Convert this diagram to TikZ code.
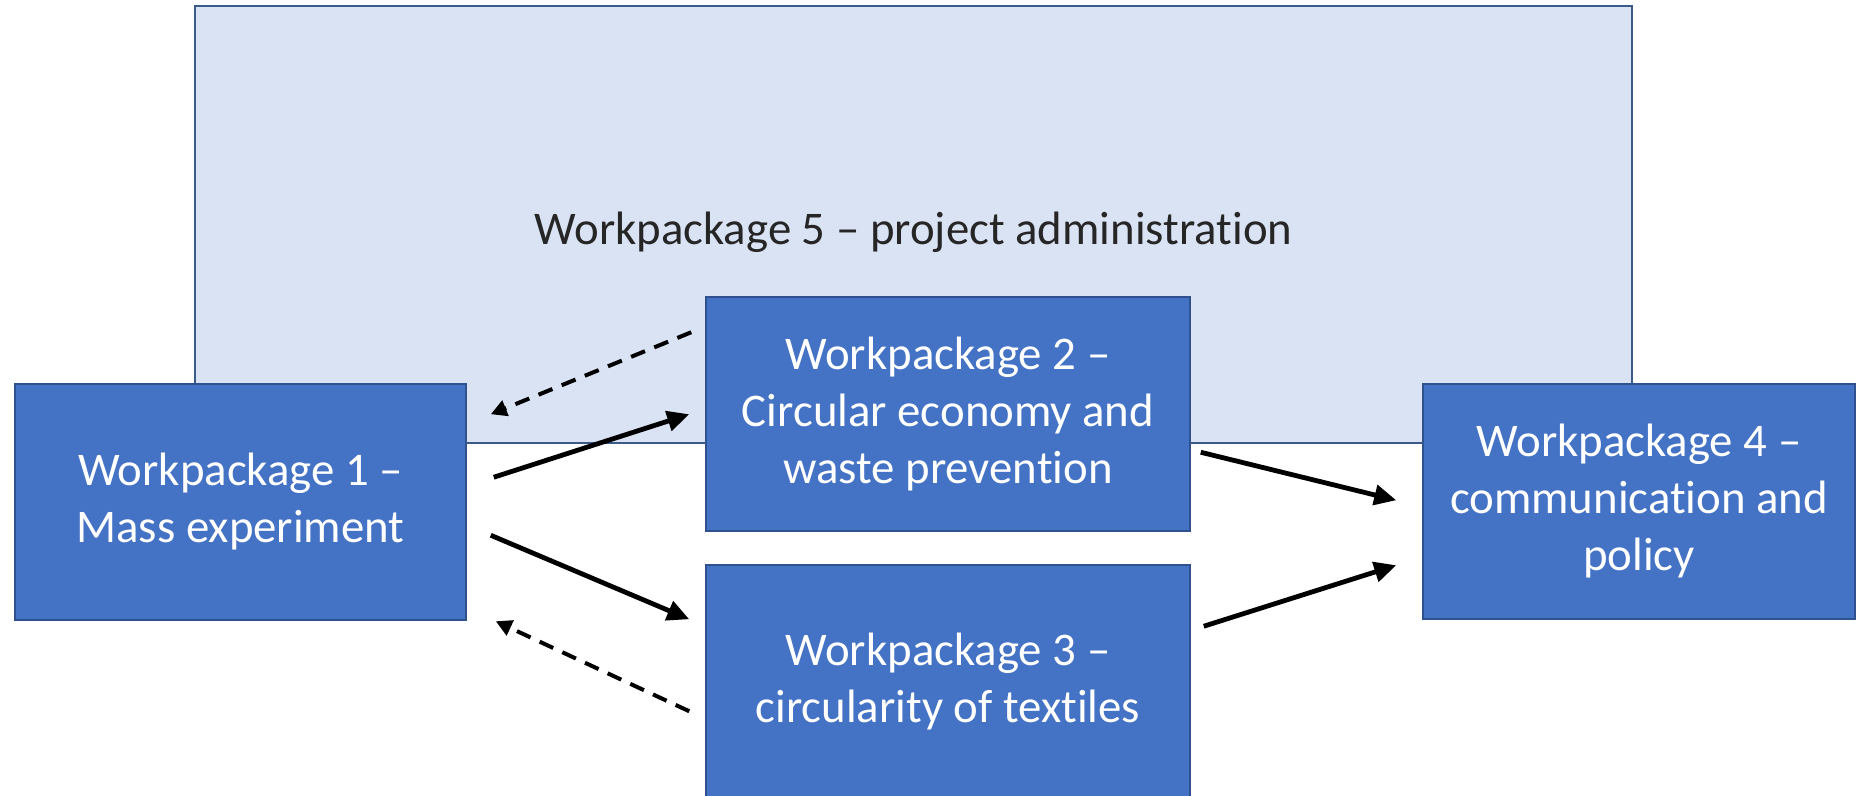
\documentclass[tikz,border=0pt]{standalone}
\usepackage{fontspec}
\setmainfont{Carlito}[RawFeature={-liga;-clig;-calt;-dlig}]
\usetikzlibrary{arrows.meta,calc}
\definecolor{wpblue}{HTML}{4472C4}
\definecolor{wpedge}{HTML}{2F528F}
\definecolor{adminfill}{HTML}{DAE3F3}
\definecolor{adminedge}{HTML}{3B5A8A}
\definecolor{admintext}{HTML}{262626}
\newcommand{\wpfont}{\fontsize{23.4}{28.5}\selectfont}
\tikzset{
  wpbox/.style={draw=wpedge, fill=wpblue, text=white, line width=0.75pt,
    inner sep=0pt, align=center, font=\wpfont},
  adminbox/.style={draw=adminedge, fill=adminfill, line width=1pt, inner sep=0pt},
  admintitle/.style={text=admintext, font=\wpfont, yshift=-4pt},
  flow/.style={line width=2.4pt, -{Triangle[length=11pt,width=10pt]}},
  feedback/.style={line width=2pt, dash pattern=on 7.5pt off 5pt,
    -{Triangle[length=8pt,width=8pt]}}
}
\begin{document}
\begin{tikzpicture}[x=0.5pt, y=-0.5pt]
\useasboundingbox (0,0) rectangle (1857,796);
\fill[white] (0,0) rectangle (1857,796);
\node[adminbox, minimum width=718.5pt, minimum height=218.5pt,
  label={[admintitle]center:Workpackage 5 -- project administration}] (wp5) at (913.5,224.5) {};
\node[wpbox, minimum width=225.5pt, minimum height=118pt] (wp1) at (240.5,502)
  {Workpackage 1 --\\Mass experiment};
\node[wpbox, minimum width=242pt, minimum height=117pt] (wp2) at (948,414)
  {Workpackage 2 --\\Circular economy and\\waste prevention};
\node[wpbox, minimum width=242pt, minimum height=117pt] (wp3) at (948,682)
  {Workpackage 3 --\\circularity of textiles};
\node[wpbox, minimum width=216pt, minimum height=117.5pt] (wp4) at (1639,501.5)
  {Workpackage 4 --\\communication and\\policy};
% connectors
\draw[feedback] ($(wp2.north west)+(-14,36)$) -- ($(wp1.north east)+(24,31)$);
\draw[flow] ($(wp1.north east)+(27,94)$) -- ($(wp2.north west)+(-16,118)$);
\draw[flow] ($(wp1.north east)+(24,152)$) -- ($(wp3.north west)+(-16,55)$);
\draw[feedback] ($(wp3.north west)+(-16,147)$) -- ($(wp1.north east)+(29,238)$);
\draw[flow] ($(wp2.north east)+(10,156)$) -- ($(wp4.north west)+(-26,117)$);
\draw[flow] ($(wp3.north east)+(13,62)$) -- ($(wp4.north west)+(-26,182)$);
\end{tikzpicture}
\end{document}
